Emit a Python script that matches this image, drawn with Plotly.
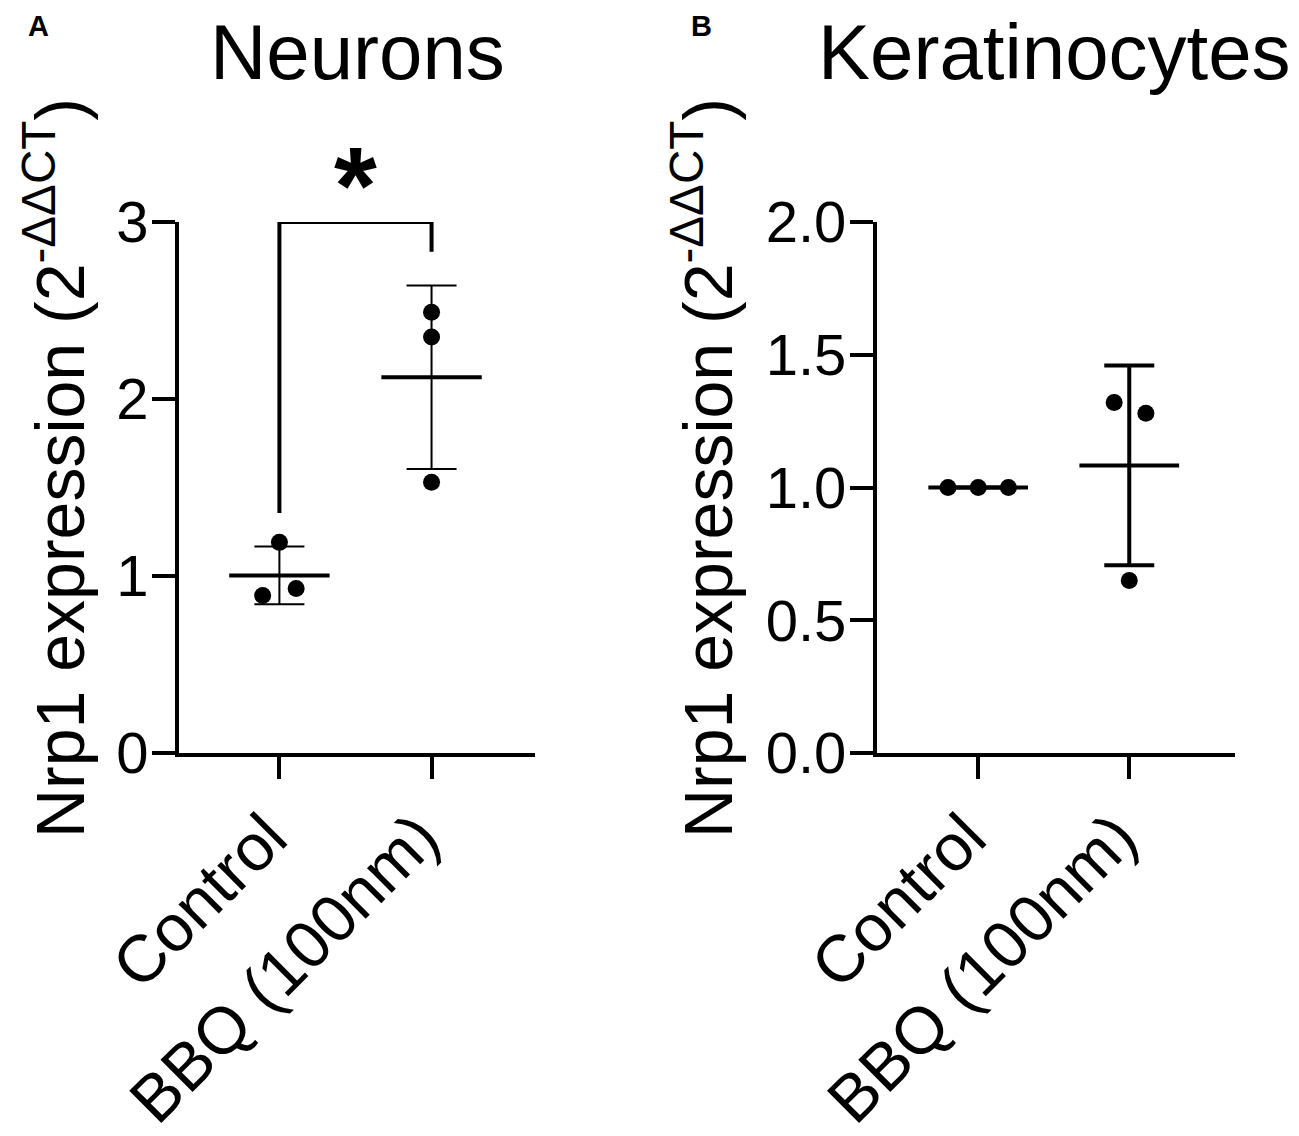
import numpy as np
import plotly.graph_objects as go

# ---------------- data ----------------
categories = ["Control", "BBQ (100nm)"]
neurons_control = [1.19, 0.89, 0.93]
neurons_bbq = [2.49, 2.35, 1.53]
kera_control = [1.00, 1.00, 1.00]
kera_bbq = [1.32, 1.28, 0.65]
neurons_yticks = [0, 1, 2, 3]
kera_yticks = [0.0, 0.5, 1.0, 1.5, 2.0]
kera_ytick_text = ["0.0", "0.5", "1.0", "1.5", "2.0"]
titles = ["Neurons", "Keratinocytes"]
panel_letters = ["A", "B"]
ylabel = "Nrp1 expression (2<sup>-ΔΔCT</sup>)"
sig_label = "*"

# ---------------- layout / style ----------------
PAGE_OFF = 8                      # default body margin of the html page
W, H = 1299 - 2 * PAGE_OFF, 1136 - PAGE_OFF
FONT = "Liberation Sans, Arial, sans-serif"
jit_nc = [0.0, -0.11, 0.11]
jit_nb = [0.0, 0.0, 0.0]
jit_kc = [-0.2, 0.0, 0.2]
jit_kb = [-0.1, 0.11, 0.0]
MEAN_HALF = 0.33
BRACKET_TOP = 3.0
BRACKET_GAP = 0.19


def px_x(p):
    return (p - PAGE_OFF) / W


def px_y(p):
    return 1 - (p - PAGE_OFF) / H


fig = go.Figure()


def add_group(vals, xi, jit, xa, ya, eb_thick):
    v = np.array(vals, dtype=float)
    m = v.mean()
    sd = v.std(ddof=1)
    # error bar
    fig.add_trace(go.Scatter(
        x=[xi], y=[m], mode="markers",
        marker=dict(size=1, color="rgba(0,0,0,0)"),
        error_y=dict(type="data", array=[sd], visible=True, color="black",
                     thickness=eb_thick, width=25),
        xaxis=xa, yaxis=ya, showlegend=False, hoverinfo="skip", cliponaxis=False))
    # mean line
    fig.add_trace(go.Scatter(
        x=[xi - MEAN_HALF, xi + MEAN_HALF], y=[m, m], mode="lines",
        line=dict(color="black", width=4),
        xaxis=xa, yaxis=ya, showlegend=False, hoverinfo="skip", cliponaxis=False))
    # points
    fig.add_trace(go.Scatter(
        x=[xi + j for j in jit], y=list(v), mode="markers",
        marker=dict(size=17, color="black"),
        xaxis=xa, yaxis=ya, showlegend=False, cliponaxis=False))
    return m, sd


mc, sc = add_group(neurons_control, 0, jit_nc, "x", "y", 2)
mb, sb = add_group(neurons_bbq, 1, jit_nb, "x", "y", 2)
add_group(kera_control, 0, jit_kc, "x2", "y2", 4)
add_group(kera_bbq, 1, jit_kb, "x2", "y2", 4)

# significance bracket
fig.add_trace(go.Scatter(
    x=[0, 0, 1, 1],
    y=[mc + sc + BRACKET_GAP, BRACKET_TOP, BRACKET_TOP, mb + sb + BRACKET_GAP],
    mode="lines", line=dict(color="black", width=4),
    xaxis="x", yaxis="y", showlegend=False, hoverinfo="skip", cliponaxis=False))

ydom = [px_y(753), px_y(222)]
axis_common = dict(showline=True, linewidth=4, linecolor="black", ticks="outside",
                   tickwidth=4, tickcolor="black", showgrid=False, zeroline=False,
                   fixedrange=True, automargin=False)
xcommon = dict(tickvals=[0, 1], ticktext=categories, tickangle=-45, ticklen=22,
               tickfont=dict(size=66), ticklabelshift=-12, ticklabelstandoff=-7,
               **axis_common)
ycommon = dict(ticklen=23, tickfont=dict(size=58), ticklabelstandoff=-8, **axis_common)

fig.update_layout(
    template="none",
    width=W, height=H,
    margin=dict(l=0, r=0, t=0, b=0, autoexpand=False),
    paper_bgcolor="white", plot_bgcolor="white",
    font=dict(family=FONT, color="black"),
    showlegend=False,
    xaxis=dict(domain=[px_x(179), px_x(535)], range=[-0.66, 1.68], anchor="y", **xcommon),
    yaxis=dict(domain=ydom, range=[0, 3], tickvals=neurons_yticks, anchor="x", **ycommon),
    xaxis2=dict(domain=[px_x(877), px_x(1235)], range=[-0.67, 1.70], anchor="y2", **xcommon),
    yaxis2=dict(domain=ydom, range=[0, 2], tickvals=kera_yticks, ticktext=kera_ytick_text,
                anchor="x2", **ycommon),
)

ann = []
# significance star placed in data coordinates of panel A
ann.append(dict(text="<b>%s</b>" % sig_label, x=0.5, y=BRACKET_TOP, xref="x", yref="y",
                showarrow=False, xanchor="center", yanchor="bottom", yshift=-26,
                font=dict(size=110, family=FONT, color="black")))
for letter, xc in zip(panel_letters, [38, 701]):
    ann.append(dict(text="<b>%s</b>" % letter, x=px_x(xc), y=px_y(26), xref="paper", yref="paper",
                    showarrow=False, xanchor="center", yanchor="middle",
                    font=dict(size=29, family=FONT, color="black")))
for t, xc in zip(titles, [358, 1054]):
    ann.append(dict(text=t, x=px_x(xc), y=px_y(52), xref="paper", yref="paper",
                    showarrow=False, xanchor="center", yanchor="middle",
                    font=dict(size=78, family=FONT, color="black")))
for xc in [55, 703]:
    ann.append(dict(text=ylabel, x=px_x(xc), y=px_y(468), xref="paper", yref="paper",
                    showarrow=False, xanchor="center", yanchor="middle", textangle=-90,
                    font=dict(size=68, family=FONT, color="black")))
fig.update_layout(annotations=ann)

fig.write_html("out.html")
